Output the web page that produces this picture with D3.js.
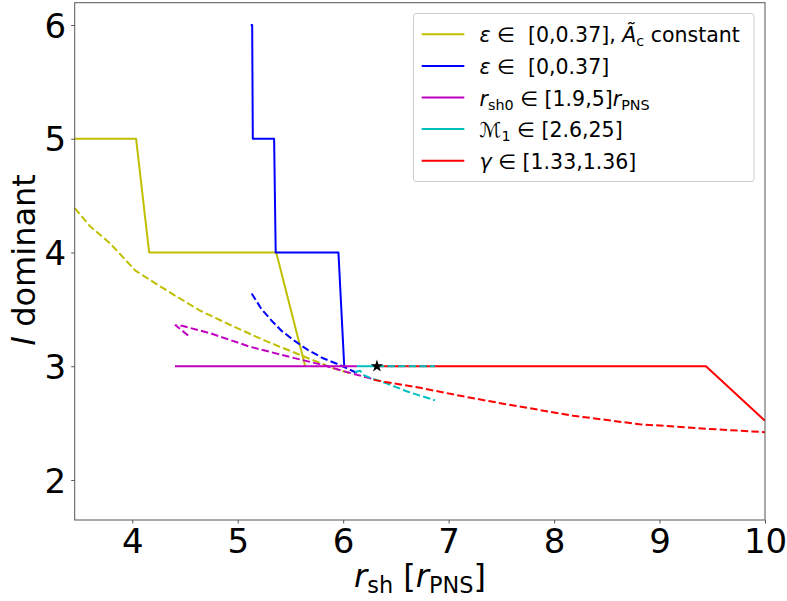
<!DOCTYPE html>
<html><head><meta charset="utf-8">
<script src="https://cdn.jsdelivr.net/npm/d3@7"></script>
<style>body{margin:0;background:#fff}svg{display:block;font-family:"DejaVu Sans",sans-serif}text{white-space:pre}</style>
</head><body><svg id="c" width="787" height="601"></svg>
<script>
// ---- data ----
const xTicks = [4,5,6,7,8,9,10];
const yTicks = [2,3,4,5,6];
const yellowSolidX = [3.454, 4.036, 4.16, 5.365, 5.64];
const yellowSolidY = [5, 5, 4, 4, 3.0];
const blueSolidX = [5.123, 5.137, 5.143, 5.345, 5.36, 5.955, 6.01];
const blueSolidY = [6, 6, 5, 5, 4, 4, 3];
const magentaSolidX = [4.405, 6.13];
const magentaSolidY = [3, 3];
const cyanSolidX = [6.13, 6.32];
const cyanSolidY = [3, 3];
const redSolidX = [6.32, 9.44, 10];
const redSolidY = [3, 3, 2.52];
const cyanOverX = [6.32, 6.87];
const cyanOverY = [3, 3];
const yellowDashX = [3.454, 3.6, 3.79, 4.03, 4.2, 4.39, 4.64, 4.96, 5.27, 5.59, 5.91, 6.06];
const yellowDashY = [4.39, 4.23, 4.08, 3.84, 3.74, 3.63, 3.49, 3.35, 3.22, 3.10, 2.98, 2.94];
const blueDashX = [5.132, 5.227, 5.322, 5.417, 5.543, 5.67, 5.81, 5.97, 6.13];
const blueDashY = [3.64, 3.50, 3.40, 3.31, 3.22, 3.14, 3.07, 3.01, 2.94];
const magentaDashX = [4.53, 4.41, 4.47, 4.74, 5.12, 5.5, 5.81, 6.03, 6.29];
const magentaDashY = [3.27, 3.36, 3.355, 3.29, 3.17, 3.08, 3.01, 2.95, 2.885];
const cyanDashX = [6.11, 6.16, 6.2, 6.25, 6.41, 6.6, 6.87];
const cyanDashY = [2.95, 2.96, 2.92, 2.90, 2.85, 2.78, 2.70];
const redDashX = [6.29, 6.73, 7.11, 7.55, 8.18, 8.81, 9.45, 10];
const redDashY = [2.88, 2.81, 2.74, 2.665, 2.565, 2.49, 2.45, 2.42];
const starX = [6.32], starY = [3.0];
const legendLabels = [
  [{t:"ε",it:1},{t:" ∈  [0,0.37], "},{t:"Ã",it:1},{t:"c",sub:1},{t:" constant"}],
  [{t:"ε",it:1},{t:" ∈  [0,0.37]"}],
  [{t:"r",it:1},{t:"sh0",sub:1},{t:" ∈ [1.9,5]"},{t:"r",it:1},{t:"PNS",sub:1}],
  [{t:"ℳ",it:1},{t:"1",sub:1},{t:" ∈ [2.6,25]"}],
  [{t:"γ",it:1},{t:" ∈ [1.33,1.36]"}]
];
const colors = {y:"#bfbf00", b:"#0000ff", m:"#bf00bf", c:"#00bfbf", r:"#ff0000"};
const legendColors = [colors.y, colors.b, colors.m, colors.c, colors.r];

// ---- layout ----
const L=74.7, R=765, T=2.7, B=520;
const x = d3.scaleLinear().domain([3.454,10]).range([L,R]);
const y = d3.scaleLinear().domain([1.648,6.196]).range([B,T]);
const svg = d3.select("#c");
const zip = (a,b)=>a.map((v,i)=>[v,b[i]]);
const line = d3.line().x(d=>x(d[0])).y(d=>y(d[1]));
svg.append("clipPath").attr("id","pa").append("rect").attr("x",L).attr("y",T).attr("width",R-L).attr("height",B-T);
const g = svg.append("g").attr("clip-path","url(#pa)");
function draw(xs,ys,col,dash){
  g.append("path").attr("d",line(zip(xs,ys))).attr("fill","none").attr("stroke",col)
   .attr("stroke-width",2).attr("stroke-linejoin","round")
   .attr("stroke-dasharray",dash?"7.4,3.2":null);
}
draw(yellowSolidX,yellowSolidY,colors.y);
draw(yellowDashX,yellowDashY,colors.y,1);
draw(blueSolidX,blueSolidY,colors.b);
draw(blueDashX,blueDashY,colors.b,1);
draw(magentaSolidX,magentaSolidY,colors.m);
draw(magentaDashX,magentaDashY,colors.m,1);
draw(cyanSolidX,cyanSolidY,colors.c);
draw(cyanDashX,cyanDashY,colors.c,1);
draw(redSolidX,redSolidY,colors.r);
draw(redDashX,redDashY,colors.r,1);
draw(cyanOverX,cyanOverY,colors.c,1);
g.selectAll(".star").data(zip(starX,starY)).enter().append("path")
 .attr("d",d3.symbol(d3.symbolStar,50)).attr("transform",d=>`translate(${x(d[0])},${y(d[1])})`).attr("fill","#000");

// axes
const spine="#555";
const ax = svg.append("g").attr("transform",`translate(0,${B})`).call(d3.axisBottom(x).tickValues(xTicks).tickFormat(d3.format("d")).tickSize(3.5).tickPadding(6));
const ay = svg.append("g").attr("transform",`translate(${L},0)`).call(d3.axisLeft(y).tickValues(yTicks).tickFormat(d3.format("d")).tickSize(3.5).tickPadding(5));
[ax,ay].forEach(a=>{a.select(".domain").remove();a.selectAll("line").attr("stroke",spine);
  a.selectAll("text").attr("font-size",34).attr("fill","#000").attr("font-family","DejaVu Sans");});
ax.selectAll("text").attr("dy",null).attr("y",null).attr("transform","translate(0,33.3)");
ay.selectAll("text").attr("dy","0.36em");
svg.append("rect").attr("x",L).attr("y",T).attr("width",R-L).attr("height",B-T).attr("fill","none").attr("stroke",spine).attr("stroke-width",1);

function rich(sel,segs,fs){
  let shifted=0;
  segs.forEach(s=>{
    const ts=sel.append("tspan").text(s.t);
    if(s.it) ts.attr("font-style","italic");
    if(s.sub){ts.attr("font-size",fs*0.7); if(!shifted){ts.attr("dy",fs*0.2);shifted=1;} }
    else if(shifted){ts.attr("dy",-fs*0.2);shifted=0;}
  });
}
// axis labels
const xl = svg.append("text").attr("x",420).attr("y",587).attr("text-anchor","middle").attr("font-size",32);
rich(xl,[{t:"r",it:1},{t:"sh",sub:1},{t:" ["},{t:"r",it:1},{t:"PNS",sub:1},{t:"]"}],32);
const yl = svg.append("text").attr("transform","translate(35,260) rotate(-90)").attr("text-anchor","middle").attr("font-size",32);
rich(yl,[{t:"l",it:1},{t:" dominant"}],32);

// legend
const lg = svg.append("g");
lg.append("rect").attr("x",413.5).attr("y",13.5).attr("width",340.5).attr("height",168).attr("rx",3)
  .attr("fill","#fff").attr("fill-opacity",0.8).attr("stroke","#ccc").attr("stroke-width",1);
legendLabels.forEach((segs,i)=>{
  const yy = 34.3 + i*31.6;
  lg.append("line").attr("x1",421.7).attr("x2",464.3).attr("y1",yy).attr("y2",yy).attr("stroke",legendColors[i]).attr("stroke-width",2);
  const t = lg.append("text").attr("x",479.5).attr("y",yy+8).attr("font-size",20.5);
  rich(t,segs,20.5);
});
</script></body></html>
